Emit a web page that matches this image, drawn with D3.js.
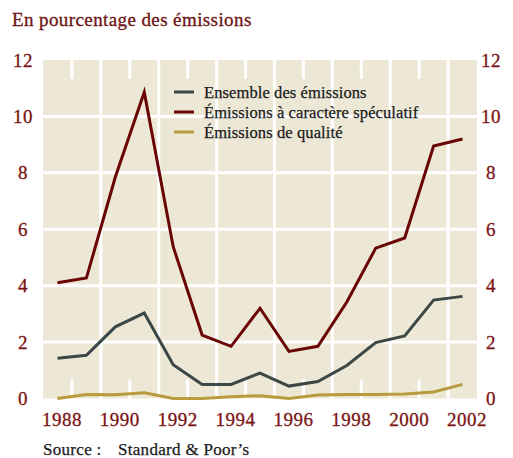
<!DOCTYPE html>
<html>
<head>
<meta charset="utf-8">
<script src="https://cdn.jsdelivr.net/npm/d3@7"></script>
<style>
  body { margin: 0; background: #fff; }
</style>
</head>
<body>
<div id="chart"></div>
<script>
const years = [1988, 1989, 1990, 1991, 1992, 1993, 1994, 1995, 1996, 1997, 1998, 1999, 2000, 2001, 2002];
const ensemble = [1.43, 1.53, 2.54, 3.03, 1.2, 0.5, 0.5, 0.9, 0.44, 0.6, 1.17, 1.98, 2.22, 3.49, 3.62];
const speculatif = [4.1, 4.27, 7.85, 10.86, 5.38, 2.25, 1.85, 3.2, 1.67, 1.85, 3.42, 5.33, 5.69, 8.95, 9.2];
const qualite = [0.0, 0.14, 0.13, 0.2, 0.0, 0.0, 0.06, 0.1, 0.0, 0.12, 0.14, 0.14, 0.16, 0.23, 0.5];
const yTicks = [0, 2, 4, 6, 8, 10, 12];
const xTicks = [1988, 1990, 1992, 1994, 1996, 1998, 2000, 2002];
const seriesNames = ['Ensemble des émissions', 'Émissions à caractère spéculatif', 'Émissions de qualité'];

const series = [
  { name: seriesNames[0], values: ensemble, color: '#3c4845' },
  { name: seriesNames[1], values: speculatif, color: '#6a0505' },
  { name: seriesNames[2], values: qualite, color: '#b89b3c' }
];

const FONT = 'Liberation Serif';
const width = 513, height = 458;
const svg = d3.select('#chart').append('svg').attr('width', width).attr('height', height);

const x = d3.scaleLinear().domain([1987.5, 2002.5]).range([43, 477]);
const y = d3.scaleLinear().domain([0, 12]).range([398.5, 60]);

// title
svg.append('text').attr('x', 12).attr('y', 26)
  .attr('font-family', FONT)
  .attr('font-size', 19).attr('letter-spacing', 0.4).attr('fill', '#6e1313')
  .attr('stroke', '#6e1313').attr('stroke-width', 0.3)
  .text('En pourcentage des émissions');

// plot background
svg.append('rect')
  .attr('x', x(1987.5)).attr('y', y(12))
  .attr('width', x(2002.5) - x(1987.5)).attr('height', y(0) - y(12))
  .attr('fill', '#ede8d5');

// vertical grid: full line every other year boundary, short ticks in between
const bounds = years.slice(0, -1).map(d => d + 0.5);
const grid = svg.append('g').attr('stroke', '#fff').attr('stroke-width', 3);
bounds.forEach((b, i) => {
  if (i % 2 === 1) {
    grid.append('line').attr('x1', x(b)).attr('x2', x(b)).attr('y1', y(12)).attr('y2', y(0));
  } else {
    grid.append('line').attr('x1', x(b)).attr('x2', x(b)).attr('y1', y(12)).attr('y2', y(12) + 19);
    grid.append('line').attr('x1', x(b)).attr('x2', x(b)).attr('y1', y(0) - 19).attr('y2', y(0));
  }
});
grid.selectAll('line.h').data(yTicks.filter(d => d > 0 && d < 12)).join('line')
  .attr('class', 'h')
  .attr('x1', x(1987.5)).attr('x2', x(2002.5))
  .attr('y1', d => y(d)).attr('y2', d => y(d));

// axes labels
const styleAxis = g => {
  g.attr('font-family', FONT);
  g.select('.domain').remove();
  g.selectAll('.tick line').remove();
  g.selectAll('text').attr('font-family', FONT)
    .attr('font-size', 19).attr('letter-spacing', 0.5).attr('fill', '#7a1414')
    .attr('stroke', '#7a1414').attr('stroke-width', 0.3);
};
svg.append('g').attr('transform', 'translate(23,0)')
  .call(d3.axisLeft(y).tickValues(yTicks).tickSize(0).tickPadding(0).tickFormat(d3.format('d')))
  .call(styleAxis)
  .call(g => g.selectAll('text').attr('text-anchor', 'middle'));
svg.append('g').attr('transform', 'translate(491,0)')
  .call(d3.axisRight(y).tickValues(yTicks).tickSize(0).tickPadding(0).tickFormat(d3.format('d')))
  .call(styleAxis)
  .call(g => g.selectAll('text').attr('text-anchor', 'middle'));
svg.append('g').attr('transform', 'translate(4,412)')
  .call(d3.axisBottom(x).tickValues(xTicks).tickSize(0).tickPadding(0).tickFormat(d3.format('d')))
  .call(styleAxis);

// lines
const line = d3.line().x((d, i) => x(years[i])).y(d => y(d));
svg.append('g').selectAll('path').data(series.slice().reverse()).join('path')
  .attr('d', d => line(d.values))
  .attr('fill', 'none')
  .attr('stroke', d => d.color)
  .attr('stroke-width', 3)
  .attr('stroke-linejoin', 'miter');

// legend
const legend = svg.append('g').attr('transform', 'translate(174,92)');
const item = legend.selectAll('g').data(series).join('g')
  .attr('transform', (d, i) => `translate(0,${i * 20})`);
item.append('line').attr('x1', 0).attr('x2', 20).attr('y1', 0).attr('y2', 0)
  .attr('stroke', d => d.color).attr('stroke-width', 3);
item.append('text').attr('x', 30).attr('y', 5.5)
  .attr('font-family', FONT)
  .attr('font-size', 16.5).attr('letter-spacing', 0.1).attr('fill', '#1a1a1a')
  .attr('stroke', '#1a1a1a').attr('stroke-width', 0.25)
  .text(d => d.name);

// source
svg.append('text').attr('x', 43).attr('y', 455)
  .attr('font-family', FONT)
  .attr('font-size', 17).attr('letter-spacing', 0.3).attr('fill', '#1a1a1a')
  .attr('stroke', '#1a1a1a').attr('stroke-width', 0.25)
  .text('Source :');
svg.append('text').attr('x', 118).attr('y', 455)
  .attr('font-family', FONT)
  .attr('font-size', 17).attr('letter-spacing', 0.3).attr('fill', '#1a1a1a')
  .attr('stroke', '#1a1a1a').attr('stroke-width', 0.25)
  .text('Standard & Poor’s');
</script>
</body>
</html>
